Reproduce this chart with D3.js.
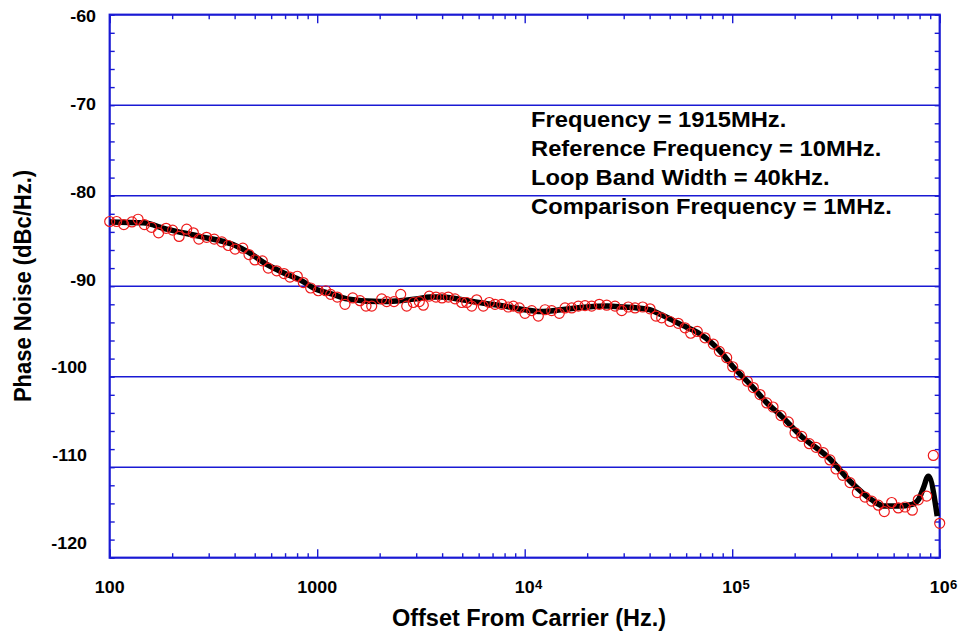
<!DOCTYPE html>
<html>
<head>
<meta charset="utf-8">
<script src="https://cdn.jsdelivr.net/npm/d3@7"></script>
<style>
  html, body { margin: 0; padding: 0; background: #fff; }
  svg { display: block; }
  text { font-family: "Liberation Sans", Arial, Helvetica, sans-serif; font-weight: bold; fill: #000; }
</style>
</head>
<body>
<svg id="chart" width="966" height="635"></svg>
<script>
// ---------------- data ----------------
const freqHz = [100,108,117,128,137,147,159,172,187,201,216,235,253,269,293,319,347,373,402,438,
  469,501,544,581,638,692,739,802,857,930,1012,1099,1161,1250,1361,1483,1608,1719,1831,2046,
  2162,2345,2526,2700,2905,3105,3246,3469,3737,3994,4284,4615,4971,5255,5555,5871,6317,6752,7194,7749,
  8337,8813,9419,10030,10810,11630,12530,13490,14680,15640,16850,18130,19530,21030,22880,24850,27240,29350,31570,34010,
  37050,40180,42930,45740,50140,54980,59240,63100,67890,73950,81080,86680,94080,100560,108190,118250,126390,136140,146640,157280,
  171900,186390,200800,216280,235310,253500,274800,296000,316400,340900,369700,400900,436500,470300,505900,540800,587000,631700,680600,737900,
  788600,865600,931600,1000000];
const phaseNoise = [-82.85,-82.85,-83.2,-82.9,-82.6,-83.2,-83.5,-84.1,-83.6,-83.8,-84.5,-83.7,-84.1,-84.8,-84.6,-84.8,-85.1,-85.5,-85.9,-85.8,
  -86.5,-87.1,-87.2,-88.0,-88.3,-88.6,-89.0,-88.9,-89.6,-90.2,-90.5,-90.5,-90.9,-91.2,-92.0,-91.3,-91.6,-92.2,-92.2,-91.4,
  -91.7,-91.7,-90.9,-92.2,-91.8,-91.7,-92.1,-91.1,-91.2,-91.3,-91.2,-91.4,-91.8,-91.8,-92.2,-91.5,-92.2,-91.8,-92.0,-92.0,
  -92.3,-92.2,-92.4,-93.0,-92.7,-93.3,-92.6,-92.7,-93.0,-92.4,-92.4,-92.2,-92.15,-92.2,-92.0,-92.1,-92.2,-92.7,-92.3,-92.4,
  -92.3,-92.5,-93.3,-93.5,-93.9,-94.1,-94.6,-95.2,-95.0,-95.7,-96.4,-97.2,-97.9,-98.9,-99.8,-100.5,-101.2,-101.97,-102.9,-103.35,
  -104.3,-105.0,-106.2,-106.6,-107.4,-107.8,-108.4,-109.2,-110.2,-110.9,-111.7,-112.8,-113.3,-113.75,-114.2,-114.9,-113.9,-114.5,-114.4,-114.75,
  -113.6,-113.2,-108.7,-116.2];

// smoothed curve (black line)
const fitHz = [100,145,188,272,393,470,571,700,826,1000,1192,1390,2000,2500,3000,3500,4000,5000,6000,8000,
  10000,12000,15000,20000,25000,30000,35000,40000,45000,50000,55000,60000,68000,80000,90000,100000,125000,147000,170000,216000,
  296000,370000,470000,540000,632000,738000,789000,834000,881000,973000];
const fitDb = [-82.9,-83.0,-83.7,-84.5,-85.4,-86.3,-87.6,-88.6,-89.3,-90.4,-90.9,-91.4,-91.7,-91.6,-91.4,-91.2,-91.2,-91.5,-91.8,-92.2,
  -92.6,-92.8,-92.6,-92.3,-92.2,-92.3,-92.4,-92.6,-93.1,-93.6,-94.1,-94.5,-95.1,-96.3,-97.5,-98.8,-101.1,-102.9,-104.2,-106.6,
  -109.1,-111.55,-113.6,-114.3,-114.3,-114.1,-113.6,-112.3,-111.0,-115.4];

const yLabels = [-60,-70,-80,-90,-100,-110,-120];
const yGrid = [-70,-80,-90,-100,-110];
const xMajor = [100,1000,10000,100000,1000000];
const xLabelBase = ["100","1000","10","10","10"];
const xLabelSup = ["","","4","5","6"];
const notes = ["Frequency = 1915MHz.","Reference Frequency = 10MHz.","Loop Band Width = 40kHz.","Comparison Frequency = 1MHz."];
const xTitle = "Offset From Carrier (Hz.)";
const yTitle = "Phase Noise (dBc/Hz.)";

// ---------------- layout ----------------
const L = 109.7, R = 939.7, T = 14.7, B = 557.7;
const BLUE = "#1a1ad4", RED = "#ee1a1a";
const SX = 1.05; // slight horizontal stretch of tick text seen in the reference

const svg = d3.select("#chart");
const x = d3.scaleLog().domain([100, 1e6]).range([L, R]);
const y = d3.scaleLinear().domain([-60, -120]).range([T, B]);
const yLab = d3.scaleLinear().domain([-60, -120]).range([16.3, 542.5]);

// gridlines
svg.append("g").selectAll("line").data(yGrid).join("line")
  .attr("x1", L).attr("x2", R).attr("y1", d => y(d)).attr("y2", d => y(d))
  .attr("stroke", BLUE).attr("stroke-width", 1.4);

// minor ticks
const yMinor = d3.range(-120, -58, 2);
const xTicks = [];
for (let e = 2; e < 6; e++) for (let m = 1; m < 10; m++) xTicks.push(m * Math.pow(10, e));
xTicks.push(1e6);

function styleAxis(g) {
  g.select(".domain").remove();
  g.selectAll("line").attr("stroke", BLUE).attr("stroke-width", 1.4);
  g.selectAll("text").remove();
}
svg.append("g").attr("transform", `translate(${L},0)`)
  .call(d3.axisLeft(y).tickValues(yMinor).tickSize(-5)).call(styleAxis);
svg.append("g").attr("transform", `translate(${R},0)`)
  .call(d3.axisRight(y).tickValues(yMinor).tickSize(-5)).call(styleAxis);

const isMajor = d => xMajor.includes(d);
const gb = svg.append("g").attr("transform", `translate(0,${B})`)
  .call(d3.axisBottom(x).tickValues(xTicks).tickSize(-4)).call(styleAxis);
gb.selectAll(".tick line").attr("y2", d => isMajor(d) ? -8.5 : -4.5);
const gt = svg.append("g").attr("transform", `translate(0,${T})`)
  .call(d3.axisTop(x).tickValues(xTicks).tickSize(-4)).call(styleAxis);
gt.selectAll(".tick line").attr("y2", d => isMajor(d) ? 8.5 : 4.5);

// frame
svg.append("rect").attr("x", L).attr("y", T).attr("width", R - L).attr("height", B - T)
  .attr("fill", "none").attr("stroke", BLUE).attr("stroke-width", 2.2);

// y tick labels
svg.append("g").selectAll("text").data(yLabels).join("text")
  .attr("transform", d => `translate(${Math.abs(d) >= 100 ? 87 : 96},${yLab(d)}) scale(${SX},1)`)
  .attr("text-anchor", "end").attr("dy", "0.36em")
  .style("font-size", "17px").text(d => d);

// x tick labels
const xl = svg.append("g").selectAll("g").data(xMajor).join("g")
  .attr("transform", d => `translate(${x(d)},592.5) scale(${SX},1)`);
xl.append("text").attr("text-anchor", "middle").style("font-size", "17px")
  .text((d, i) => xLabelBase[i]);
xl.append("text").attr("text-anchor", "start").attr("x", 9.8).attr("y", -4)
  .style("font-size", "12.5px").text((d, i) => xLabelSup[i]);

// axis titles
svg.append("text").attr("transform", `translate(529,626) scale(1.0,1)`)
  .attr("text-anchor", "middle").style("font-size", "23.5px").text(xTitle);
svg.append("text").attr("transform", `translate(30.5,286) rotate(-90) scale(1,1.05)`)
  .attr("text-anchor", "middle").style("font-size", "22px").text(yTitle);

// annotation
svg.append("g").selectAll("text").data(notes).join("text")
  .attr("transform", (d, i) => `translate(531,${[127, 156, 185, 213.5][i]}) scale(1.08,1)`)
  .style("font-size", "22px").text(d => d);

// smoothed line
const fit = fitHz.map((f, i) => ({ f, v: fitDb[i] }));
svg.append("path").datum(fit)
  .attr("d", d3.line().x(d => x(d.f)).y(d => y(d.v)).curve(d3.curveMonotoneX))
  .attr("fill", "none").attr("stroke", "#000").attr("stroke-width", 5.5).attr("stroke-linejoin", "round");

// measured points
const pts = freqHz.map((f, i) => ({ f, v: phaseNoise[i] }));
svg.append("g").selectAll("circle").data(pts).join("circle")
  .attr("cx", d => x(d.f)).attr("cy", d => y(d.v)).attr("r", 5)
  .attr("fill", "none").attr("stroke", RED).attr("stroke-width", 1.2);
</script>
</body>
</html>
